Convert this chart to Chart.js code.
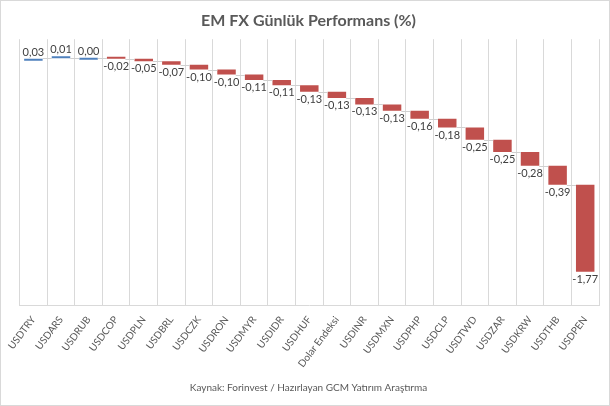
<!DOCTYPE html>
<html>
<head>
<meta charset="utf-8">
<script src="https://cdn.jsdelivr.net/npm/chart.js@4"></script>
<style>
  html, body { margin: 0; padding: 0; background: #fff; }
  #wrap { width: 608px; height: 404px; border: 1px solid #d9d9d9; }
</style>
</head>
<body>
<div id="wrap"><canvas id="myChart" width="608" height="404"></canvas></div>
<script>
const categories = ['USDTRY', 'USDARS', 'USDRUB', 'USDCOP', 'USDPLN', 'USDBRL', 'USDCZK', 'USDRON', 'USDMYR', 'USDIDR', 'USDHUF',
    'Dolar Endeksi', 'USDINR', 'USDMXN', 'USDPHP', 'USDCLP', 'USDTWD', 'USDZAR', 'USDKRW', 'USDTHB', 'USDPEN'];
const changes = [0.03, 0.01, 0.00, -0.02, -0.05, -0.07, -0.10, -0.10, -0.11, -0.11, -0.13,
    -0.13, -0.13, -0.13, -0.16, -0.18, -0.25, -0.25, -0.28, -0.39, -1.77];

// waterfall: each bar starts where the previous one ended
const ranges = [];
let run = 0;
changes.forEach(v => {
    ranges.push([run, run + v]);
    run += v;
});

const fmt = v => v.toFixed(2).replace('.', ',');

const waterfallExtras = {
    id: 'waterfallExtras',
    afterDatasetsDraw(chart) {
        const ctx = chart.ctx;
        const meta = chart.getDatasetMeta(0);
        const y = chart.scales.y;
        ctx.save();
        // connector lines
        ctx.strokeStyle = '#d0d0d0';
        ctx.lineWidth = 1;
        for (let i = 0; i < meta.data.length - 1; i++) {
            const a = meta.data[i], b = meta.data[i + 1];
            const py = Math.round(y.getPixelForValue(ranges[i][1])) + 0.5;
            ctx.beginPath();
            ctx.moveTo(a.x + a.width / 2, py);
            ctx.lineTo(b.x - b.width / 2, py);
            ctx.stroke();
        }
        // value labels
        ctx.font = '11px Lato';
        ctx.fillStyle = '#404040';
        ctx.textAlign = 'center';
        meta.data.forEach((bar, i) => {
            const top = Math.min(bar.y, bar.base);
            const bottom = Math.max(bar.y, bar.base);
            if (changes[i] >= 0) {
                ctx.textBaseline = 'bottom';
                ctx.fillText(fmt(changes[i]), bar.x, top - 1);
            } else {
                ctx.textBaseline = 'top';
                ctx.fillText(fmt(changes[i]), bar.x, bottom + 2);
            }
        });
        ctx.restore();
    }
};

const ctx = document.getElementById('myChart').getContext('2d');
const myChart = new Chart(ctx, {
    type: 'bar',
    data: {
        labels: categories,
        datasets: [{
            data: ranges,
            backgroundColor: changes.map(v => v >= 0 ? '#4f81bd' : '#c0504d'),
            borderWidth: 0,
            minBarLength: 2,
            barPercentage: 0.67,
            categoryPercentage: 1
        }]
    },
    options: {
        responsive: false,
        animation: false,
        layout: { padding: { left: 17, right: 10, top: 0, bottom: 0 } },
        plugins: {
            legend: { display: false },
            tooltip: { enabled: false },
            title: {
                display: true,
                text: 'EM FX Günlük Performans (%)',
                color: '#595959',
                font: { family: 'Lato', size: 16, weight: 'bold' },
                padding: { top: 10, bottom: 9 }
            },
            subtitle: {
                display: true,
                position: 'bottom',
                text: 'Kaynak: Forinvest / Hazırlayan GCM Yatırım Araştırma',
                color: '#595959',
                font: { family: 'Lato', size: 10 },
                padding: { top: 4, bottom: 11 }
            }
        },
        scales: {
            x: {
                grid: { color: '#d9d9d9', offset: true, drawTicks: false },
                border: { display: true, color: '#d9d9d9' },
                ticks: {
                    color: '#595959',
                    font: { family: 'Lato', size: 10 },
                    minRotation: 53,
                    maxRotation: 53,
                    padding: 9,
                    autoSkip: false
                },
                afterFit(scale) { scale.height = 73; }
            },
            y: {
                display: false,
                min: -5,
                max: 0.42
            }
        }
    },
    plugins: [waterfallExtras]
});
</script>
</body>
</html>
